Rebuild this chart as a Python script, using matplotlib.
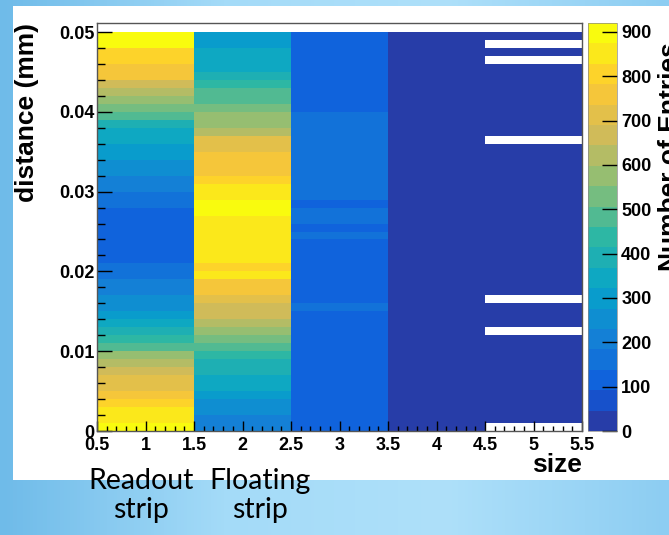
import matplotlib.pyplot as plt
import numpy as np
from matplotlib.colors import LinearSegmentedColormap, ListedColormap, BoundaryNorm
from matplotlib.patches import Rectangle
from matplotlib.ticker import MultipleLocator, FuncFormatter

plt.rcParams['font.family'] = 'Liberation Sans'
plt.rcParams['font.weight'] = 'bold'

# bin edges of the 2D histogram
size_edges = [0.5, 1.5, 2.5, 3.5, 4.5, 5.5]
dist_edges = np.linspace(0, 0.05, 51)

# entries per distance bin (bottom -> top), one list per cluster size
size1 = [900, 870, 830, 800, 770, 730, 710, 660, 620, 570,
         480, 420, 390, 340, 300, 270, 240, 200, 190, 170,
         140, 135, 130, 130, 130, 130, 130, 135, 140, 150,
         190, 220, 250, 270, 290, 310, 330, 350, 400, 460,
         520, 580, 620, 680, 740, 760, 800, 820, 890, 910]
size2 = [200, 210, 230, 270, 300, 330, 340, 380, 400, 440,
         480, 530, 570, 610, 660, 680, 700, 750, 780, 850,
         810, 860, 860, 860, 860, 850, 870, 890, 895, 860,
         850, 800, 770, 760, 760, 700, 710, 600, 580, 560,
         540, 500, 480, 430, 400, 350, 340, 340, 300, 300]
size3 = [120, 120, 120, 120, 120, 120, 120, 120, 120, 120,
         120, 120, 120, 120, 125, 150, 120, 120, 120, 120,
         120, 120, 120, 125, 150, 120, 150, 150, 120, 150,
         150, 145, 145, 145, 145, 145, 145, 145, 145, 145,
         120, 120, 120, 120, 120, 120, 120, 120, 120, 120]
size4 = [25] * 50
size5 = [0, 8, 8, 8, 8, 8, 8, 8, 8, 8,
         8, 8, 0, 8, 8, 8, 0, 8, 8, 8,
         8, 8, 8, 8, 8, 8, 8, 8, 8, 8,
         8, 8, 8, 8, 8, 8, 0, 8, 8, 8,
         8, 8, 8, 8, 8, 8, 0, 8, 0, 8]

counts = np.array([size1, size2, size3, size4, size5]).T
counts = np.ma.masked_equal(counts, 0)

# ROOT kBird palette, 20 contour levels
stops = [0.0, 0.125, 0.25, 0.375, 0.5, 0.625, 0.75, 0.875, 1.0]
red = [0.2082, 0.0592, 0.0780, 0.0232, 0.1802, 0.5301, 0.8186, 0.9956, 0.9764]
green = [0.1664, 0.3599, 0.5041, 0.6419, 0.7178, 0.7492, 0.7328, 0.7862, 0.9832]
blue = [0.5293, 0.8684, 0.8385, 0.7914, 0.6425, 0.4662, 0.3499, 0.1968, 0.0539]
bird = LinearSegmentedColormap.from_list(
    'bird', list(zip(stops, zip(red, green, blue))))
ndiv = 20
zmax = 920
cmap = ListedColormap([bird(min((i + 0.99) / ndiv, 1.0)) for i in range(ndiv)])
norm = BoundaryNorm(np.linspace(0, zmax, ndiv + 1), ndiv)

W, H = 669, 535
fig = plt.figure(figsize=(W / 100, H / 100), dpi=100)

# slide background
bg = fig.add_axes([0, 0, 1, 1])
grad_cols = LinearSegmentedColormap.from_list(
    'slide', ['#6fbbe9', '#a4dbf8', '#aee0fa', '#8dcdf2'])
bg.imshow(np.linspace(0, 1, 200)[None, :], cmap=grad_cols, aspect='auto',
          extent=[0, 1, 0, 1])
bg.add_patch(Rectangle((13 / W, 55 / H), 656 / W, 474 / H,
                       transform=bg.transAxes, fc='white', ec='none'))
bg.set_xlim(0, 1)
bg.set_ylim(0, 1)
bg.axis('off')

ax = fig.add_axes([97 / W, 104 / H, 485 / W, 408 / H])
ax.set_facecolor('white')
mesh = ax.pcolormesh(size_edges, dist_edges, counts, cmap=cmap, norm=norm)
ax.set_xlim(0.5, 5.5)
ax.set_ylim(0, 0.05113)

ax.xaxis.set_major_locator(MultipleLocator(0.5))
ax.xaxis.set_minor_locator(MultipleLocator(0.1))
ax.yaxis.set_major_locator(MultipleLocator(0.01))
ax.yaxis.set_minor_locator(MultipleLocator(0.002))
ax.xaxis.set_major_formatter(FuncFormatter(lambda v, p: f'{v:g}'))
ax.yaxis.set_major_formatter(FuncFormatter(lambda v, p: '0' if abs(v) < 1e-9 else f'{v:.2f}'))
ax.tick_params(axis='y', which='major', direction='in', length=10.8, width=1,
               labelsize=13, pad=2)
ax.tick_params(axis='y', which='minor', direction='in', length=5.8, width=1)
ax.tick_params(axis='x', which='major', direction='in', length=7.2, width=1,
               labelsize=13, pad=4)
ax.tick_params(axis='x', which='minor', direction='in', length=3.6, width=1)
for s in ax.spines.values():
    s.set_color('#555555')
    s.set_linewidth(1)

cax = fig.add_axes([588 / W, 104 / H, 29 / W, 408 / H])
cb = fig.colorbar(mesh, cax=cax, ticks=range(0, 1000, 100))
cb.minorticks_off()
cb.outline.set_linewidth(0.5)
cb.outline.set_edgecolor('#888888')
cax.tick_params(direction='in', length=11, width=1, labelsize=13, pad=3)

fig.text(15 / W, 1 - 23 / H, 'distance (mm)', rotation=90, ha='left', va='top',
         fontsize=19)
fig.text(582 / W, 1 - 453 / H, 'size', ha='right', va='top', fontsize=19)
fig.text(658 / W, 1 - 42 / H, 'Number of Entries', rotation=90, ha='left',
         va='top', fontsize=19)

fig.text(141 / W, 1 - 468 / H, 'Readout\nstrip', ha='center', va='top',
         family='Lato', weight='normal', fontsize=20.5, linespacing=1.15)
fig.text(260 / W, 1 - 468 / H, 'Floating\nstrip', ha='center', va='top',
         family='Lato', weight='normal', fontsize=20.5, linespacing=1.15)

fig.savefig('out.png', dpi=100)
